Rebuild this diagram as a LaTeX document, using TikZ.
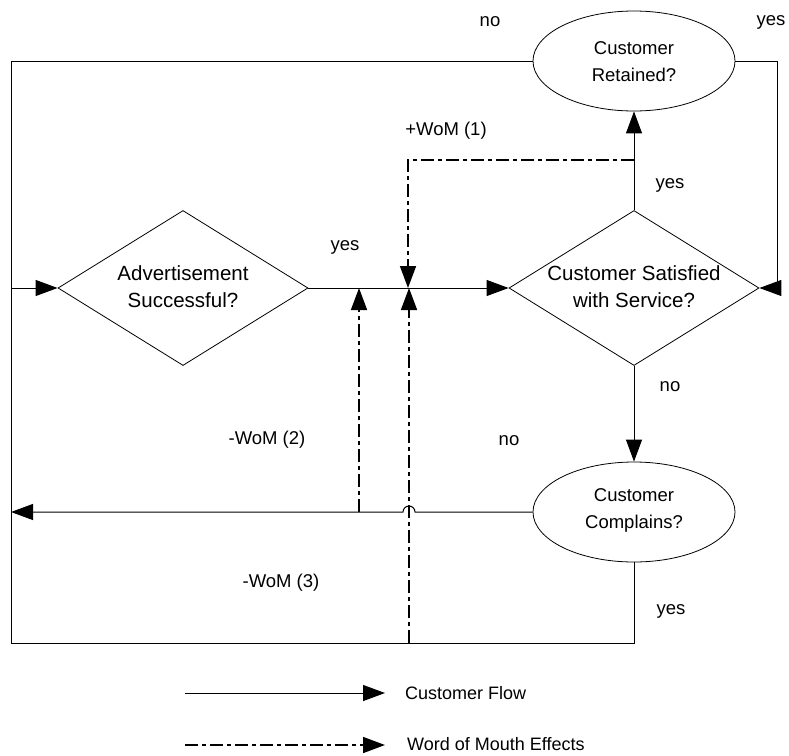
\documentclass[tikz,border=0pt]{standalone}
\usepackage{fontspec}
\setmainfont{Liberation Sans}
\usetikzlibrary{arrows.meta,shapes.geometric}
\begin{document}
\begin{tikzpicture}[x=1pt,y=-1pt,
  font=\fontsize{18}{27}\selectfont,
  flow/.style={line width=1pt},
  wom/.style={line width=1.6pt, dash pattern=on 13pt off 4pt on 4pt off 4pt},
  tip/.style={-{Triangle[length=22pt,width=16pt]}},
  decision/.style={diamond, draw, line width=0.8pt, minimum width=250pt,
    minimum height=155pt, inner sep=0pt, aspect=1.6},
  question/.style={ellipse, draw, line width=0.8pt, minimum width=202pt,
    minimum height=100pt, inner sep=0pt},
  dtxt/.style={inner sep=0pt, align=center, font=\fontsize{20.5}{27}\selectfont},
  qtxt/.style={inner sep=0pt, align=center, font=\fontsize{18.5}{27}\selectfont},
  lbl/.style={inner sep=0pt, font=\fontsize{18.5}{22}\selectfont},
  key/.style={inner sep=0pt, anchor=west, font=\fontsize{18}{22}\selectfont}]
\useasboundingbox (0,0) rectangle (789,755);

% decisions and questions (outlines, then their texts)
\node[decision] (ad)   at (183,288) {};
\node[decision] (sat)  at (634,288) {};
\node[question] (ret)  at (634,61)  {};
\node[question] (comp) at (634,512) {};
\node[dtxt] (adT)   at (183,287) {Advertisement\\Successful?};
\node[dtxt] (satT)  at (634,287) {Customer Satisfied\\with Service?};
\node[qtxt] (retT)  at (634,62)  {Customer\\Retained?};
\node[qtxt] (compT) at (634,510) {Customer\\Complains?};

% routing points
\coordinate (tl)  at (11,61);
\coordinate (ml)  at (11,288);
\coordinate (bl)  at (11,643);
\coordinate (br)  at (634,643);
\coordinate (rr)  at (777,61);
\coordinate (rrs) at (777,288);
\coordinate (cl)  at (11,512);
\coordinate (hop) at (415,512);
\coordinate (w1s) at (634,160);
\coordinate (w1c) at (408,160);
\coordinate (w1e) at (408,288);
\coordinate (w2s) at (359,512);
\coordinate (w2e) at (359,288);
\coordinate (w3s) at (409,643);
\coordinate (w3e) at (409,288);

% customer flow
\draw[flow] (ret.west) -- (tl) -- (bl) -- (br) -- (comp.south);
\draw[flow,tip] (ml) -- (ad.west);
\draw[flow,tip] (ad.east) -- (sat.west);
\draw[flow,tip] (sat.north) -- (ret.south);
\draw[flow,tip] (sat.south) -- (comp.north);
\draw[flow,tip] (ret.east) -- (rr) -- (rrs) -- (sat.east);
\draw[flow,tip] (comp.west) -- (hop) arc[start angle=0,end angle=-180,radius=6] -- (cl);

% word of mouth effects
\draw[wom,tip] (w1s) -- (w1c) -- (w1e);
\draw[wom,tip] (w2s) -- (w2e);
\draw[wom,tip] (w3s) -- (w3e);

% branch labels
\node[lbl] (l1) at (490,22)  {no};
\node[lbl] (l2) at (771,22)  {yes};
\node[lbl] (l3) at (446,131) {+WoM (1)};
\node[lbl] (l4) at (670,185) {yes};
\node[lbl] (l5) at (345,247) {yes};
\node[lbl] (l6) at (670,387) {no};
\node[lbl] (l7) at (267,440) {-WoM (2)};
\node[lbl] (l8) at (509,441) {no};
\node[lbl] (l9) at (281,583) {-WoM (3)};
\node[lbl] (l10) at (671,611) {yes};

% legend
\coordinate (fa) at (185,693);
\coordinate (fb) at (385,693);
\coordinate (wa) at (185,745);
\coordinate (wb) at (385,745);
\draw[flow,tip] (fa) -- (fb);
\draw[wom,tip] (wa) -- (wb);
\node[key] (lf) at (405,693) {Customer Flow};
\node[key] (lw) at (407,744) {Word of Mouth Effects};
\end{tikzpicture}
\end{document}
